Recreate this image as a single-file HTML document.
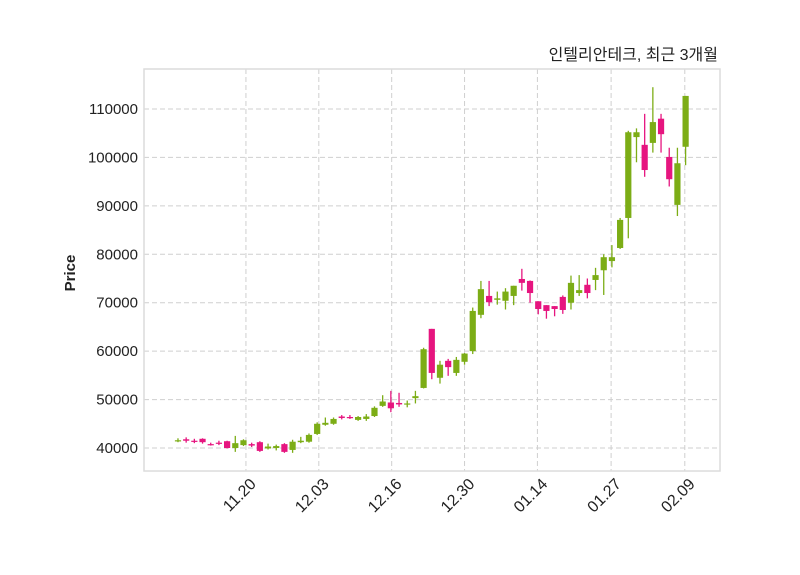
<!DOCTYPE html>
<html><head><meta charset="utf-8"><style>
body{margin:0;background:#fff;}
svg{display:block;font-family:"Liberation Sans","Noto Sans CJK KR",sans-serif;}
</style></head><body>
<svg id="chart" width="800" height="575" viewBox="0 0 800 575" xmlns="http://www.w3.org/2000/svg">
<rect width="800" height="575" fill="#fff"/>
<text x="718" y="60" text-anchor="end" font-size="16" fill="#222">인텔리안테크, 최근 3개월</text>
<text transform="translate(75,273) rotate(-90)" text-anchor="middle" font-size="15" font-weight="bold" fill="#222">Price</text>
<g id="grid"></g>
<g id="candles"></g>
<rect x="144" y="69" width="576" height="402" fill="none" stroke="#dcdcdc" stroke-width="1.5"/>
<g id="axes"></g>
</svg>
<script>
const opens  = [41.4,41.8,41.5,41.9,40.8,41.1,41.4,40.0,40.6,40.8,41.2,39.9,40.0,40.8,39.6,41.2,41.3,42.9,44.8,45.0,46.5,46.4,45.8,46.0,46.6,48.7,49.4,49.3,49.0,50.3,52.4,64.6,54.5,58.0,55.5,57.8,60.0,67.5,71.4,70.6,70.4,71.4,74.9,74.5,70.3,69.5,69.3,71.2,70.0,72.0,73.7,74.7,76.7,78.6,81.3,87.5,104.2,102.6,103.0,108.0,100.1,90.2,102.2];
const closes = [41.6,41.5,41.3,41.2,40.6,40.9,40.0,41.0,41.6,40.5,39.4,40.3,40.4,39.2,41.3,41.5,42.7,45.0,45.2,46.0,46.2,46.2,46.4,46.5,48.3,49.6,48.2,49.0,49.2,50.7,60.4,55.5,57.2,56.7,58.2,59.5,68.3,72.8,70.1,70.9,72.3,73.5,74.1,72.0,68.7,68.3,68.7,68.5,74.1,72.6,72.0,75.7,79.4,79.4,87.1,105.2,105.2,97.4,107.3,104.8,95.5,98.8,112.7];
const highs  = [42.0,42.2,41.9,42.0,41.1,41.5,41.5,42.5,41.8,41.1,41.4,40.9,40.7,41.0,41.7,42.3,43.0,45.3,46.3,46.3,46.8,46.8,46.6,47.0,48.6,50.9,51.8,51.4,49.8,51.8,60.7,64.6,58.0,58.4,58.8,59.6,69.0,74.5,74.5,72.3,73.0,73.5,77.0,74.6,70.3,69.5,69.3,71.5,75.6,75.7,75.0,77.2,80.0,81.9,87.5,105.5,106.0,109.0,114.5,109.0,102.0,102.0,112.7];
const lows   = [41.2,41.1,41.0,40.9,40.5,40.6,39.9,39.2,40.4,40.2,39.2,39.7,39.5,39.0,39.0,41.0,41.1,42.7,44.6,44.8,45.9,46.0,45.6,45.6,46.4,48.5,47.4,48.5,48.4,49.2,52.3,54.2,53.3,54.9,54.9,57.2,59.4,66.8,69.3,69.6,68.6,69.5,72.5,70.0,67.6,66.7,67.2,67.7,68.6,71.4,70.9,72.6,71.6,77.3,81.1,83.3,99.0,96.0,101.0,101.0,94.0,87.9,98.4];
const yTicks = [40000,50000,60000,70000,80000,90000,100000,110000];
const xTickLabels = ["11.20","12.03","12.16","12.30","01.14","01.27","02.09"];
const xTickIndex  = [8.3,17.2,26.1,35.0,43.9,52.9,61.9];

const NS="http://www.w3.org/2000/svg";
const X0=144,X1=720,Y0=69,Y1=471;
const iMin=-4.15,iMax=66.2,vMin=35250,vMax=118260;
function xs(i){return X0+(i-iMin)/(iMax-iMin)*(X1-X0);}
function ys(v){return Y1-(v-vMin)/(vMax-vMin)*(Y1-Y0);}
function mk(tag,attrs,parent){const e=document.createElementNS(NS,tag);for(const k in attrs)e.setAttribute(k,attrs[k]);parent.appendChild(e);return e;}
const grid=document.getElementById('grid'),axes=document.getElementById('axes'),cg=document.getElementById('candles');
yTicks.forEach(v=>{
  const y=ys(v);
  const l=mk('line',{x1:X0,x2:X1,y1:y,y2:y,stroke:'#cfcfcf','stroke-dasharray':'5,3'},grid);
  
  
  const t=mk('text',{x:X0-6,y:y+5,'text-anchor':'end','font-size':15,fill:'#222'},axes);
  t.textContent=v;
  
  
});
xTickIndex.forEach((ix,k)=>{
  const x=xs(ix);
  const l=mk('line',{x1:x,x2:x,y1:Y0,y2:Y1,stroke:'#cfcfcf','stroke-dasharray':'5,3'},grid);
  
  
  const t=mk('text',{transform:`translate(${x+11},${Y1+14}) rotate(-45)`,'text-anchor':'end','font-size':16,fill:'#222'},axes);
  t.textContent=xTickLabels[k];
  
  
});
const bw=6.2;
opens.forEach((o,i)=>{
  const c=closes[i],up=c>=o,col=up?'#7cad16':'#e6157f';
  const x=xs(i);
  const w=mk('line',{x1:x,x2:x,y1:ys(highs[i]*1000),y2:ys(lows[i]*1000),stroke:col,'stroke-width':1.3},cg);
  
  
  const top=ys(Math.max(o,c)*1000),bot=ys(Math.min(o,c)*1000);
  const r=mk('rect',{x:x-bw/2,y:top,width:bw,height:Math.max(bot-top,1.2),fill:col},cg);
  
  
});
</script>
</body></html>
